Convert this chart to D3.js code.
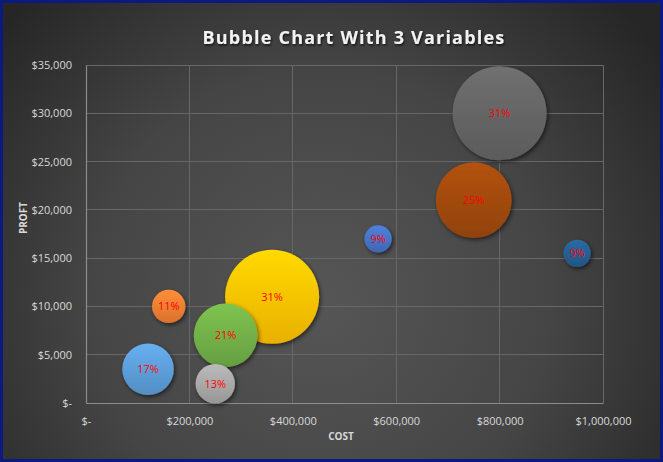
<!DOCTYPE html>
<html><head><meta charset="utf-8">
<script src="https://cdn.jsdelivr.net/npm/d3@7/dist/d3.min.js"></script>
<style>html,body{margin:0;padding:0;background:#0c1a80;}svg{display:block;}</style>
</head><body>
<script>
const costs   = [120000, 160000, 250000, 270000, 360000, 565000, 750000, 800000, 950000];
const profits = [3500, 10000, 2000, 7000, 11000, 17000, 21000, 30000, 15500];
const shares  = [17, 11, 13, 21, 31, 9, 25, 31, 9];
const colors  = ["#5b9bd5", "#ed7d31", "#a5a5a5", "#70ad47", "#ffc000", "#4472c4", "#9e480e", "#636363", "#255e91"];
const xTicks  = [0, 200000, 400000, 600000, 800000, 1000000];
const yTicks  = [0, 5000, 10000, 15000, 20000, 25000, 30000, 35000];

const W = 663, H = 462;
const svg = d3.select("body").append("svg").attr("width", W).attr("height", H);
const defs = svg.append("defs");

const bg = defs.append("radialGradient").attr("id","bg").attr("gradientUnits","userSpaceOnUse")
  .attr("cx",320).attr("cy",300).attr("r",420);
bg.append("stop").attr("offset","0").attr("stop-color","#565656");
bg.append("stop").attr("offset","0.55").attr("stop-color","#454545");
bg.append("stop").attr("offset","1").attr("stop-color","#262626");

const sh = defs.append("filter").attr("id","sh").attr("x","-30%").attr("y","-30%").attr("width","160%").attr("height","160%");
sh.append("feDropShadow").attr("dx",1.5).attr("dy",2).attr("stdDeviation",2).attr("flood-color","#000").attr("flood-opacity",0.55);
const tsh = defs.append("filter").attr("id","tsh");
tsh.append("feDropShadow").attr("dx",1).attr("dy",1.5).attr("stdDeviation",1).attr("flood-color","#000").attr("flood-opacity",0.7);

colors.forEach((c,i)=>{
  const g = defs.append("linearGradient").attr("id","g"+i).attr("x1",0).attr("y1",0).attr("x2",0).attr("y2",1);
  g.append("stop").attr("offset","0").attr("stop-color", d3.color(c).brighter(0.35));
  g.append("stop").attr("offset","1").attr("stop-color", d3.color(c).darker(0.25));
});

svg.append("rect").attr("x",3).attr("y",3).attr("width",W-6).attr("height",H-6).attr("fill","url(#bg)");

const x = d3.scaleLinear().domain([0,1000000]).range([86,603]);
const y = d3.scaleLinear().domain([0,35000]).range([403,65]);
const r = d3.scaleLinear().domain([0,31]).range([0,47]);

const grid = svg.append("g");
grid.selectAll(".vx").data(xTicks.slice(1)).join("line")
  .attr("x1",d=>x(d)).attr("x2",d=>x(d)).attr("y1",y(35000)).attr("y2",y(0))
  .attr("stroke","#676767").attr("stroke-width",1).attr("shape-rendering","crispEdges");
grid.selectAll(".hy").data(yTicks.slice(1)).join("line")
  .attr("x1",x(0)).attr("x2",x(1000000)).attr("y1",d=>y(d)).attr("y2",d=>y(d))
  .attr("stroke","#676767").attr("stroke-width",1).attr("shape-rendering","crispEdges");

const fmt = v => v === 0 ? "$-" : "$" + d3.format(",")(v);

const xAxis = svg.append("g").attr("transform",`translate(0,${y(0)})`)
  .call(d3.axisBottom(x).tickValues(xTicks).tickFormat(fmt).tickSize(0).tickPadding(12));
const yAxis = svg.append("g").attr("transform",`translate(${x(0)},0)`)
  .call(d3.axisLeft(y).tickValues(yTicks).tickFormat(fmt).tickSize(0).tickPadding(14));
[xAxis,yAxis].forEach(a=>{
  a.select(".domain").attr("stroke","#8c8c8c").attr("stroke-width",1.2);
  a.selectAll("text").attr("fill","#d9d9d9").attr("font-family","'Open Sans', sans-serif").attr("font-size",11);
});
xAxis.selectAll("text").attr("dy","0.9em");

const data = costs.map((c,i)=>({c, p:profits[i], s:shares[i], i}));
const sorted = data.slice().sort((a,b)=>b.s-a.s);
const bub = svg.append("g");
bub.selectAll("circle").data(sorted).join("circle")
  .attr("cx",d=>x(d.c)).attr("cy",d=>y(d.p)).attr("r",d=>r(d.s))
  .attr("fill",d=>`url(#g${d.i})`).attr("filter","url(#sh)");
bub.selectAll("text").data(data).join("text")
  .attr("x",d=>x(d.c)).attr("y",d=>y(d.p)).attr("dy","0.35em").attr("text-anchor","middle")
  .attr("fill","#ff0000").attr("font-family","'Open Sans', sans-serif").attr("font-size",11)
  .text(d=>d.s+"%");

svg.append("text").attr("x",354).attr("y",44).attr("text-anchor","middle")
  .attr("fill","#f2f2f2").attr("font-family","'Open Sans', sans-serif").attr("font-weight","bold")
  .attr("font-size",18).attr("letter-spacing",1.2).attr("filter","url(#tsh)")
  .text("Bubble Chart With 3 Variables");

svg.append("text").attr("x",341).attr("y",440).attr("text-anchor","middle")
  .attr("fill","#d9d9d9").attr("font-family","'Open Sans', sans-serif").attr("font-weight","bold")
  .attr("font-size",10).text("COST");
svg.append("text").attr("transform","translate(27,218) rotate(-90)").attr("text-anchor","middle")
  .attr("fill","#d9d9d9").attr("font-family","'Open Sans', sans-serif").attr("font-weight","bold")
  .attr("font-size",10).text("PROFT");
</script>
</body></html>
